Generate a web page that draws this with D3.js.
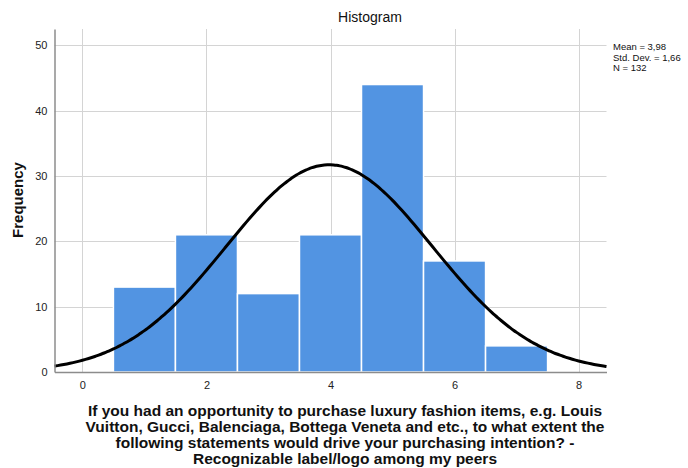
<!DOCTYPE html>
<html>
<head>
<meta charset="utf-8">
<script src="https://cdn.jsdelivr.net/npm/d3@7"></script>
<style>
  body { margin: 0; background: #fff; }
  text { font-family: "Liberation Sans", Arial, sans-serif; }
</style>
</head>
<body>
<script>
// Histogram bins (bin centres) and frequencies
const binCenters = [1, 2, 3, 4, 5, 6, 7];
const frequencies = [13, 21, 12, 21, 44, 17, 4];
const xTicks = [0, 2, 4, 6, 8];
const yTicks = [0, 10, 20, 30, 40, 50];
const statLabels = ["Mean = 3,98", "Std. Dev. = 1,66", "N = 132"];
const stats = { mean: 3.98, sd: 1.66, n: 132 };
const xLabelLines = [
  "If you had an opportunity to purchase luxury fashion items, e.g. Louis",
  "Vuitton, Gucci, Balenciaga, Bottega Veneta and etc., to what extent the",
  "following statements would drive your purchasing intention? -",
  "Recognizable label/logo among my peers"
];

const svgWidth = 688;
const svgHeight = 468;

const svg = d3.select("body")
  .append("svg")
  .attr("width", svgWidth)
  .attr("height", svgHeight);

// scales: plot area in pixels
const x = d3.scaleLinear().domain([-0.45, 8.45]).range([54.5, 606.5]);
const y = d3.scaleLinear().domain([0, 52.5]).range([372, 29]);

// grid lines
svg.append("g").selectAll("line.h")
  .data(yTicks.filter(d => d > 0))
  .enter().append("line")
  .attr("x1", x.range()[0]).attr("x2", x.range()[1])
  .attr("y1", d => Math.round(y(d)) + 0.5).attr("y2", d => Math.round(y(d)) + 0.5)
  .attr("stroke", "#d4d4d4").attr("stroke-width", 1);

svg.append("g").selectAll("line.v")
  .data(xTicks)
  .enter().append("line")
  .attr("x1", d => Math.round(x(d)) + 0.5).attr("x2", d => Math.round(x(d)) + 0.5)
  .attr("y1", y.range()[1]).attr("y2", y(0))
  .attr("stroke", "#d4d4d4").attr("stroke-width", 1);

// bars
svg.append("g").selectAll("rect")
  .data(binCenters)
  .enter().append("rect")
  .attr("x", d => x(d - 0.5))
  .attr("width", d => x(d + 0.5) - x(d - 0.5))
  .attr("y", (d, i) => y(frequencies[i]))
  .attr("height", (d, i) => y(0) - y(frequencies[i]))
  .attr("fill", "#5294e2")
  .attr("stroke", "#ffffff")
  .attr("stroke-width", 1.5);

// normal curve from the stated mean / sd / N
const pdf = v => stats.n / (stats.sd * Math.sqrt(2 * Math.PI)) *
  Math.exp(-0.5 * Math.pow((v - stats.mean) / stats.sd, 2));
const curveXs = d3.range(x.domain()[0], x.domain()[1] + 0.001, 0.05);
svg.append("path")
  .datum(curveXs)
  .attr("fill", "none")
  .attr("stroke", "#000")
  .attr("stroke-width", 3)
  .attr("d", d3.line().x(d => x(d)).y(d => y(pdf(d))).curve(d3.curveBasis));

// axes
const yAxis = svg.append("g")
  .attr("transform", `translate(${x.range()[0]},0)`)
  .call(d3.axisLeft(y).tickValues(yTicks).tickSize(0).tickPadding(7));
const xAxis = svg.append("g")
  .attr("transform", `translate(0,${y(0)})`)
  .call(d3.axisBottom(x).tickValues(xTicks).tickSize(0).tickPadding(9));

[yAxis, xAxis].forEach(a => {
  a.select(".domain").attr("stroke", "#8c8c8c").attr("stroke-width", 1.5);
  a.selectAll("text").attr("font-size", 11).attr("fill", "#222")
    .style("font-family", "Liberation Sans, Arial, sans-serif");
});

// title
svg.append("text")
  .attr("x", 370).attr("y", 22)
  .attr("text-anchor", "middle")
  .attr("font-size", 14)
  .attr("fill", "#111")
  .text("Histogram");

// y label
svg.append("text")
  .attr("transform", "translate(23,200) rotate(-90)")
  .attr("text-anchor", "middle")
  .attr("font-size", 15)
  .attr("font-weight", "bold")
  .attr("fill", "#111")
  .text("Frequency");

// stats box
svg.append("g").selectAll("text")
  .data(statLabels)
  .enter().append("text")
  .attr("x", 613)
  .attr("y", (d, i) => 50 + i * 10.5)
  .attr("font-size", 9.5)
  .attr("fill", "#111")
  .text(d => d);

// x label
svg.append("g").selectAll("text")
  .data(xLabelLines)
  .enter().append("text")
  .attr("x", 345)
  .attr("y", (d, i) => 416 + i * 16)
  .attr("text-anchor", "middle")
  .attr("font-size", 15.5)
  .attr("font-weight", "bold")
  .attr("fill", "#111")
  .text(d => d);
</script>
</body>
</html>
